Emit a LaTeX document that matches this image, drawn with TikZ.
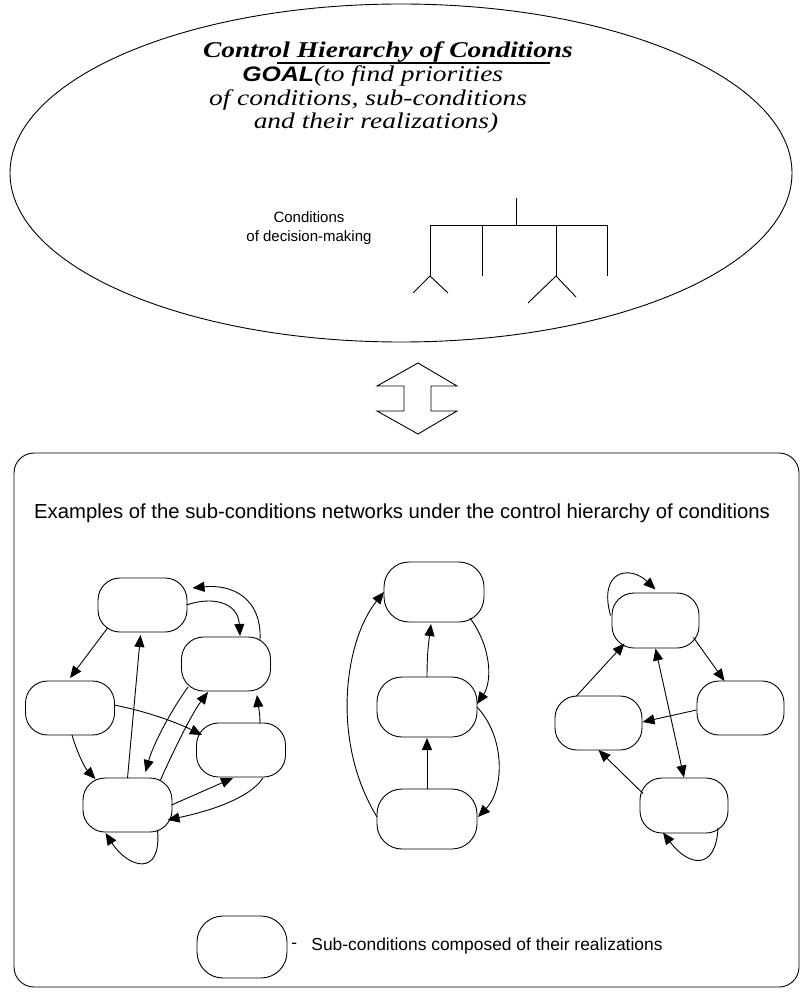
\documentclass[tikz,border=0pt]{standalone}
\usepackage{fontspec}
\setmainfont{Liberation Serif}
\setsansfont{Liberation Sans}
\newfontfamily\wideserif[FakeStretch=1.22]{Liberation Serif}
\newfontfamily\widesans[FakeStretch=1.18]{Liberation Sans}
\usetikzlibrary{arrows.meta,calc,shapes.geometric}

\begin{document}
\begin{tikzpicture}[x=1pt,y=-1pt,line width=0.9pt,
  subc/.style={draw,rounded corners=22pt,minimum width=89pt,minimum height=54pt,inner sep=0pt},
  tallsubc/.style={subc,minimum width=100pt,minimum height=60pt,rounded corners=25pt},
  link/.style={-{Triangle[length=12pt,width=10pt]}},
  both/.style={{Triangle[length=12pt,width=10pt]}-{Triangle[length=12pt,width=10pt]}},
  sans/.style={font=\fontsize{#1}{#1}\sffamily,inner sep=0pt},
  serifit/.style={anchor=base,inner sep=0pt,font=\fontsize{22.5}{22.5}\wideserif\itshape}
]
\useasboundingbox (0,0) rectangle (801,992);

% ---------- upper part: the goal ellipse ----------
\node[draw,ellipse,minimum width=782pt,minimum height=338pt,inner sep=0pt] (goal) at (401,173) {};

\node[serifit,font=\fontsize{22.5}{22.5}\wideserif\bfseries\itshape] (title) at (388,58) {Control Hierarchy of Conditions};
\draw[line width=1.2pt] (277,63) -- (550,63);

\node[anchor=base west,inner sep=0pt] (goalline) at (242,82)
  {{\fontsize{21}{21}\widesans\bfseries\itshape GOAL}{\fontsize{22.5}{22.5}\wideserif\itshape (to find priorities}};
\node[serifit] (line3) at (368,106) {of conditions, sub-conditions};
\node[serifit] (line4) at (376,129) {and their realizations)};

\node[sans=15,align=center] (cond) at (309,228) {Conditions\\[4pt]of decision-making};

% hierarchy tree
\draw (516,198) -- (516,225);
\draw (430,225) -- (607,225);
\draw (430,225) -- (430,276);
\draw (482,225) -- (482,276);
\draw (556,225) -- (556,276);
\draw (607,225) -- (607,276);
\draw (413,293) -- (430,276) -- (448,293);
\draw (528,303) -- (556,276) -- (576,297);

% double-headed block arrow
\draw (418,363) -- (457,386) -- (431,386) -- (431,411) -- (457,411) -- (418,434)
      -- (377,411) -- (404,411) -- (404,386) -- (377,386) -- cycle;

% ---------- lower part: the networks ----------
\draw[rounded corners=20pt] (14,453) rectangle (799,987);
\node[sans=20.3] (examples) at (402,513) {Examples of the sub-conditions networks under the control hierarchy of conditions};

% first network
\node[subc] (A) at (142.5,605) {};
\node[subc] (B) at (226,664) {};
\node[subc] (C) at (70,708) {};
\node[subc] (D) at (241,750) {};
\node[subc] (E) at (127.5,805) {};

\draw[link] ($(A)+(-35,23)$) -- ($(C)+(0,-30)$);
\draw[link] ($(E)+(0,-27)$) -- ($(A)+(-2,30)$);
\draw[link] ($(A)+(44,0)$) .. controls (212,596) and (238,602) .. ($(B)+(14,-28)$);
\draw[link] ($(B)+(34,-24)$) .. controls (262,598) and (232,584) .. ($(A)+(50,-17)$);
\draw[link] ($(C)+(44,-3)$) .. controls (150,712) and (180,724) .. ($(D)+(-39,-15)$);
\draw[link] ($(C)+(2,27)$) .. controls (78,755) and (85,768) .. ($(E)+(-32,-26)$);
\draw[link] ($(B)+(-38,23)$) .. controls (170,712) and (153,745) .. ($(E)+(18,-33)$);
\draw[link] ($(E)+(33,-25)$) .. controls (176,745) and (193,712) .. ($(B)+(-18,28)$);
\draw[link] ($(D)+(19,-26)$) .. controls (260,712) and (258,704) .. ($(B)+(31,31)$);
\draw[link] ($(E)+(44,0)$) -- ($(D)+(-8,28)$);
\draw[link] ($(D)+(22,28)$) .. controls (248,800) and (205,812) .. ($(E)+(40,15)$);
\draw[link] ($(E)+(30,25)$) .. controls (162,878) and (128,868) .. ($(E)+(-22,28)$);

% second network
\node[tallsubc] (M1) at (434,592) {};
\node[tallsubc] (M2) at (427,707) {};
\node[tallsubc] (M3) at (427,819) {};

\draw[link] ($(M2)+(0,-30)$) .. controls (427,652) and (429,640) .. ($(M1)+(-3,32)$);
\draw[link] ($(M3)+(0,-30)$) -- ($(M2)+(0,31)$);
\draw[link] ($(M1)+(36,26)$) .. controls (492,648) and (492,682) .. ($(M2)+(50,-3)$);
\draw[link] ($(M2)+(50,0)$) .. controls (506,738) and (504,790) .. ($(M3)+(51,-2)$);
\draw[link] ($(M3)+(-50,-2)$) .. controls (330,740) and (345,640) .. ($(M1)+(-50,0)$);

% third network
\node[subc,minimum width=87pt,minimum height=55pt] (R1) at (655.5,620.5) {};
\node[subc,minimum width=87pt] (R2) at (740.5,708) {};
\node[subc,minimum width=87pt] (R3) at (598.5,723) {};
\node[subc,minimum width=88pt,minimum height=55pt] (R4) at (684,805.5) {};

\draw[link] ($(R1)+(-45,-5)$) .. controls (598,570) and (630,565) .. ($(R1)+(0,-31)$);
\draw[link] ($(R1)+(38,17)$) -- ($(R2)+(-16,-27)$);
\draw[link] ($(R2)+(-44,2)$) -- ($(R3)+(44,-1)$);
\draw[link] ($(R3)+(-22,-27)$) -- ($(R1)+(-31,23)$);
\draw[both] ($(R1)+(0,28)$) -- ($(R4)+(0,-28)$);
\draw[link] ($(R4)+(-41,-12)$) -- ($(R3)+(0,27)$);
\draw[link] ($(R4)+(34,22)$) .. controls (716,872) and (688,866) .. ($(R4)+(-21,27)$);

% legend
\node[subc,minimum width=90pt,minimum height=62pt,rounded corners=26pt] (key) at (242,947) {};
\node[sans=17.4,anchor=west] (dash) at (291,946) {-};
\node[sans=17.4,anchor=west] (keytext) at (311,946) {Sub-conditions composed of their realizations};
\end{tikzpicture}
\end{document}
